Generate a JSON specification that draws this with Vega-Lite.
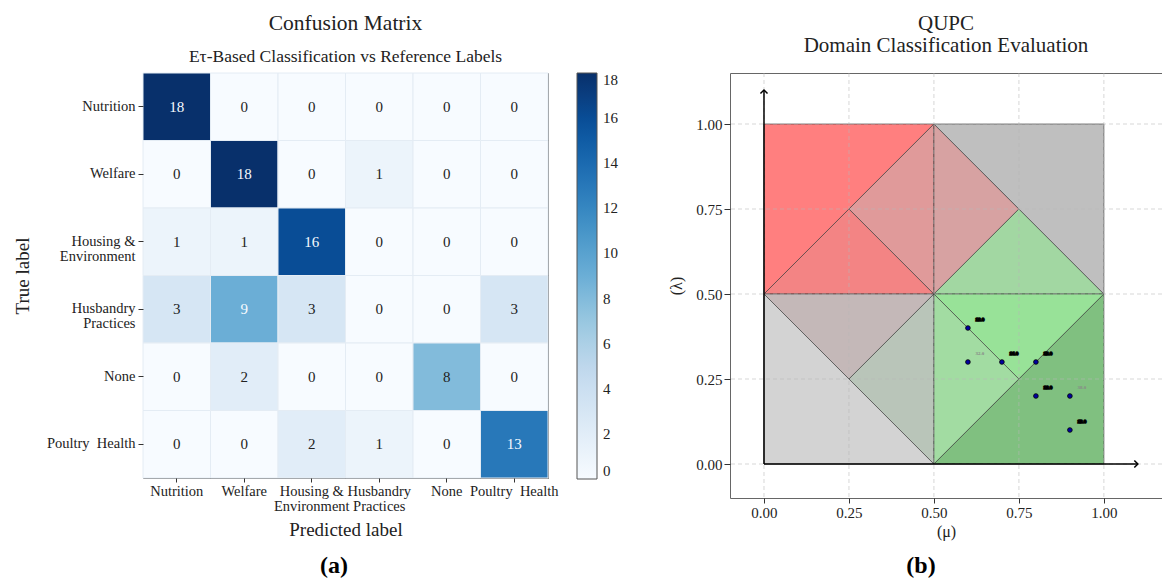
{
  "$schema": "https://vega.github.io/schema/vega-lite/v6.json",
  "background": "white",
  "padding": {"left": 12, "top": 12, "right": 0, "bottom": 0},
  "spacing": 14,
  "config": {
    "font": "Liberation Serif",
    "view": {"stroke": "#666", "strokeWidth": 1},
    "title": {"font": "Liberation Serif", "color": "#222", "fontWeight": "normal", "subtitleFont": "Liberation Serif", "subtitleColor": "#222"},
    "axis": {"labelFont": "Liberation Serif", "titleFont": "Liberation Serif", "labelColor": "#222", "titleColor": "#222", "titleFontWeight": "normal", "tickColor": "#333", "domainColor": "#555"},
    "legend": {"labelFont": "Liberation Serif", "labelColor": "#222"}
  },
  "vconcat": [
    {
      "spacing": 49,
      "align": "none",
      "resolve": {"scale": {"color": "independent"}, "legend": {"color": "independent"}},
      "hconcat": [
        {
          "width": 405,
          "height": 405,
          "title": {"text": "Confusion Matrix", "subtitle": "Eτ-Based Classification vs Reference Labels", "fontSize": 21.5, "subtitleFontSize": 17.5, "anchor": "middle", "offset": 7, "subtitlePadding": 14},
          "data": {"values": [
            {"t": "Nutrition", "p": "Nutrition", "n": 18}, {"t": "Nutrition", "p": "Welfare", "n": 0}, {"t": "Nutrition", "p": "Housing & Environment", "n": 0}, {"t": "Nutrition", "p": "Husbandry Practices", "n": 0}, {"t": "Nutrition", "p": "None", "n": 0}, {"t": "Nutrition", "p": "Poultry  Health", "n": 0},
            {"t": "Welfare", "p": "Nutrition", "n": 0}, {"t": "Welfare", "p": "Welfare", "n": 18}, {"t": "Welfare", "p": "Housing & Environment", "n": 0}, {"t": "Welfare", "p": "Husbandry Practices", "n": 1}, {"t": "Welfare", "p": "None", "n": 0}, {"t": "Welfare", "p": "Poultry  Health", "n": 0},
            {"t": "Housing & Environment", "p": "Nutrition", "n": 1}, {"t": "Housing & Environment", "p": "Welfare", "n": 1}, {"t": "Housing & Environment", "p": "Housing & Environment", "n": 16}, {"t": "Housing & Environment", "p": "Husbandry Practices", "n": 0}, {"t": "Housing & Environment", "p": "None", "n": 0}, {"t": "Housing & Environment", "p": "Poultry  Health", "n": 0},
            {"t": "Husbandry Practices", "p": "Nutrition", "n": 3}, {"t": "Husbandry Practices", "p": "Welfare", "n": 9}, {"t": "Husbandry Practices", "p": "Housing & Environment", "n": 3}, {"t": "Husbandry Practices", "p": "Husbandry Practices", "n": 0}, {"t": "Husbandry Practices", "p": "None", "n": 0}, {"t": "Husbandry Practices", "p": "Poultry  Health", "n": 3},
            {"t": "None", "p": "Nutrition", "n": 0}, {"t": "None", "p": "Welfare", "n": 2}, {"t": "None", "p": "Housing & Environment", "n": 0}, {"t": "None", "p": "Husbandry Practices", "n": 0}, {"t": "None", "p": "None", "n": 8}, {"t": "None", "p": "Poultry  Health", "n": 0},
            {"t": "Poultry  Health", "p": "Nutrition", "n": 0}, {"t": "Poultry  Health", "p": "Welfare", "n": 0}, {"t": "Poultry  Health", "p": "Housing & Environment", "n": 2}, {"t": "Poultry  Health", "p": "Husbandry Practices", "n": 1}, {"t": "Poultry  Health", "p": "None", "n": 0}, {"t": "Poultry  Health", "p": "Poultry  Health", "n": 13}
          ]},
          "encoding": {
            "x": {"field": "p", "type": "nominal", "sort": ["Nutrition", "Welfare", "Housing & Environment", "Husbandry Practices", "None", "Poultry  Health"], "scale": {"paddingInner": 0, "paddingOuter": 0},
              "axis": {"title": "Predicted label", "labelAngle": 0, "labelFontSize": 14.5, "labelLineHeight": 15, "tickSize": 4, "labelPadding": 2, "titleFontSize": 19, "titlePadding": 8, "domain": false,
                "labelExpr": "datum.label == 'Housing & Environment' ? ['Housing &', 'Environment'] : datum.label == 'Husbandry Practices' ? ['Husbandry', 'Practices'] : replace(datum.label, '  ', '\u00a0\u00a0')"}},
            "y": {"field": "t", "type": "nominal", "sort": ["Nutrition", "Welfare", "Housing & Environment", "Husbandry Practices", "None", "Poultry  Health"], "scale": {"paddingInner": 0, "paddingOuter": 0},
              "axis": {"title": "True label", "labelFontSize": 14.5, "labelLineHeight": 15, "tickSize": 5, "labelPadding": 3, "titleFontSize": 19, "titlePadding": 14, "domain": false,
                "labelExpr": "datum.label == 'Housing & Environment' ? ['Housing &', 'Environment'] : datum.label == 'Husbandry Practices' ? ['Husbandry', 'Practices'] : replace(datum.label, '  ', '\u00a0\u00a0')"}}
          },
          "layer": [
            {
              "mark": {"type": "rect", "stroke": "#e4ecf4", "strokeWidth": 1},
              "encoding": {
                "color": {"field": "n", "type": "quantitative",
                  "scale": {"domain": [0, 2.25, 4.5, 6.75, 9, 11.25, 13.5, 15.75, 18], "range": ["#f7fbff", "#deebf7", "#c6dbef", "#9ecae1", "#6baed6", "#4292c6", "#2171b5", "#08519c", "#08306b"]},
                  "legend": {"title": null, "orient": "right", "offset": 29, "direction": "vertical", "gradientLength": 406, "gradientThickness": 20, "values": [0, 2, 4, 6, 8, 10, 12, 14, 16, 18], "labelFontSize": 15, "labelOffset": 6, "labelOverlap": false, "gradientStrokeColor": "#555", "gradientStrokeWidth": 1}}
              }
            },
            {
              "mark": {"type": "text", "fontSize": 15, "font": "Liberation Serif"},
              "encoding": {
                "text": {"field": "n", "type": "quantitative"},
                "color": {"condition": {"test": "datum.n >= 9", "value": "#f7fbff"}, "value": "#222"}
              }
            }
          ]
        },
        {
          "width": 432,
          "height": 425,
          "title": {"text": ["QUPC", "Domain Classification Evaluation"], "fontSize": 21, "lineHeight": 22, "anchor": "middle", "offset": 17},
          "encoding": {
            "x": {"field": "x", "type": "quantitative", "scale": {"domain": [-0.1, 1.171], "nice": false, "zero": false},
              "axis": {"title": "(μ)", "values": [0, 0.25, 0.5, 0.75, 1], "format": ".2f", "labelFontSize": 15, "titleFontSize": 16, "tickSize": 5, "labelPadding": 2, "titlePadding": 3, "domain": false, "grid": false}},
            "y": {"field": "y", "type": "quantitative", "scale": {"domain": [-0.1, 1.15], "nice": false, "zero": false},
              "axis": {"title": "(λ)", "values": [0, 0.25, 0.5, 0.75, 1], "format": ".2f", "labelFontSize": 15, "titleFontSize": 16, "tickSize": 6, "labelPadding": 2, "titlePadding": 11, "domain": false, "grid": false}}
          },
          "layer": [
            {
              "data": {"values": [
                {"region": "A", "x": 0, "y": 1, "y2": 0.5}, {"region": "A", "x": 0.5, "y": 1, "y2": 1},
                {"region": "B", "x": 0, "y": 0.5, "y2": 0.5}, {"region": "B", "x": 0.25, "y": 0.75, "y2": 0.5}, {"region": "B", "x": 0.5, "y": 0.5, "y2": 0.5},
                {"region": "C", "x": 0.25, "y": 0.75, "y2": 0.75}, {"region": "C", "x": 0.5, "y": 1, "y2": 0.5},
                {"region": "D", "x": 0.5, "y": 1, "y2": 0.5}, {"region": "D", "x": 0.75, "y": 0.75, "y2": 0.75},
                {"region": "E", "x": 0.5, "y": 0.5, "y2": 0.5}, {"region": "E", "x": 0.75, "y": 0.75, "y2": 0.5}, {"region": "E", "x": 1, "y": 0.5, "y2": 0.5},
                {"region": "F", "x": 0.5, "y": 1, "y2": 1}, {"region": "F", "x": 0.75, "y": 1, "y2": 0.75}, {"region": "F", "x": 1, "y": 1, "y2": 0.5},
                {"region": "G", "x": 0, "y": 0.5, "y2": 0.5}, {"region": "G", "x": 0.25, "y": 0.5, "y2": 0.25}, {"region": "G", "x": 0.5, "y": 0.5, "y2": 0.5},
                {"region": "H", "x": 0.25, "y": 0.25, "y2": 0.25}, {"region": "H", "x": 0.5, "y": 0.5, "y2": 0},
                {"region": "I", "x": 0, "y": 0.5, "y2": 0}, {"region": "I", "x": 0.25, "y": 0.25, "y2": 0}, {"region": "I", "x": 0.5, "y": 0, "y2": 0},
                {"region": "J", "x": 0.5, "y": 0.5, "y2": 0.5}, {"region": "J", "x": 0.75, "y": 0.5, "y2": 0.25}, {"region": "J", "x": 1, "y": 0.5, "y2": 0.5},
                {"region": "K", "x": 0.5, "y": 0.5, "y2": 0}, {"region": "K", "x": 0.75, "y": 0.25, "y2": 0.25},
                {"region": "L", "x": 0.5, "y": 0, "y2": 0}, {"region": "L", "x": 0.75, "y": 0.25, "y2": 0}, {"region": "L", "x": 1, "y": 0.5, "y2": 0}
              ]},
              "mark": {"type": "area", "stroke": "#333", "strokeWidth": 1, "strokeOpacity": 0.6, "interpolate": "linear"},
              "encoding": {
                "y": {"field": "y", "type": "quantitative", "stack": null},
                "y2": {"field": "y2"},
                "fill": {"field": "region", "type": "nominal", "legend": null,
                  "scale": {"domain": ["A", "B", "C", "D", "E", "F", "G", "H", "I", "J", "K", "L"], "range": ["#ff7f7f", "#f38484", "#e09a9a", "#d7a2a2", "#a2d7a2", "#bfbfbf", "#c4b8b8", "#b9c5b9", "#d3d3d3", "#98e298", "#a2dca2", "#80c080"]}},
                "detail": {"field": "region"}
              }
            },
            {
              "data": {"values": [{"x": 0}, {"x": 0.25}, {"x": 0.5}, {"x": 0.75}, {"x": 1}]},
              "mark": {"type": "rule", "color": "#b8b8b8", "strokeWidth": 0.8, "strokeDash": [4, 3], "opacity": 0.7},
              "encoding": {"y": null}
            },
            {
              "data": {"values": [{"y": 0}, {"y": 0.25}, {"y": 0.5}, {"y": 0.75}, {"y": 1}]},
              "mark": {"type": "rule", "color": "#b8b8b8", "strokeWidth": 0.8, "strokeDash": [4, 3], "opacity": 0.7},
              "encoding": {"x": null}
            },
            {
              "data": {"values": [{"x": 0, "y": 0, "x2": 0, "y2": 1.1}, {"x": 0, "y": 0, "x2": 1.1, "y2": 0}]},
              "mark": {"type": "rule", "color": "black", "strokeWidth": 1.5},
              "encoding": {
                "x2": {"field": "x2"},
                "y2": {"field": "y2"}
              }
            },
            {
              "data": {"values": [{"x": 0, "y": 1.1, "dir": "up"}, {"x": 1.1, "y": 0, "dir": "right"}]},
              "mark": {"type": "point", "filled": false, "stroke": "black", "strokeWidth": 1.5, "size": 50, "opacity": 1},
              "encoding": {
                "shape": {"field": "dir", "type": "nominal", "legend": null, "scale": {"domain": ["up", "right"], "range": ["M-1,1L0,0L1,1", "M-1,-1L0,0L-1,1"]}}
              }
            },
            {
              "data": {"values": [
                {"x": 0.6, "y": 0.4, "lbl": "18.0"},
                {"x": 0.6, "y": 0.3, "lbl": "32.0"},
                {"x": 0.7, "y": 0.3, "lbl": "16.0"},
                {"x": 0.8, "y": 0.3, "lbl": "13.0"},
                {"x": 0.8, "y": 0.2, "lbl": "18.0"},
                {"x": 0.9, "y": 0.2, "lbl": "38.0"},
                {"x": 0.9, "y": 0.1, "lbl": "13.0"}
              ]},
              "layer": [
                {
                  "mark": {"type": "point", "filled": true, "fill": "#0000a0", "stroke": "black", "strokeWidth": 0.8, "size": 22, "opacity": 1}
                },
                {
                  "mark": {"type": "text", "fontSize": 5, "fontWeight": "bold", "dx": 12, "dy": -9, "strokeWidth": 1.6},
                  "encoding": {
                    "text": {"field": "lbl"},
                    "color": {"condition": {"test": "datum.lbl == '32.0' || datum.lbl == '38.0'", "value": "#888"}, "value": "black"},
                    "stroke": {"condition": {"test": "datum.lbl == '32.0' || datum.lbl == '38.0'", "value": "transparent"}, "value": "black"}
                  }
                }
              ]
            }
          ]
        }
      ]
    },
    {
      "spacing": 376,
      "hconcat": [
        {
          "width": 382,
          "height": 24,
          "view": {"stroke": null},
          "data": {"values": [{"cap": "(a)"}]},
          "mark": {"type": "text", "fontSize": 24, "fontWeight": "bold", "font": "Liberation Serif", "color": "black"},
          "encoding": {"text": {"field": "cap"}}
        },
        {
          "width": 40,
          "height": 24,
          "view": {"stroke": null},
          "data": {"values": [{"cap": "(b)"}]},
          "mark": {"type": "text", "fontSize": 24, "fontWeight": "bold", "font": "Liberation Serif", "color": "black"},
          "encoding": {"text": {"field": "cap"}}
        }
      ]
    }
  ]
}
